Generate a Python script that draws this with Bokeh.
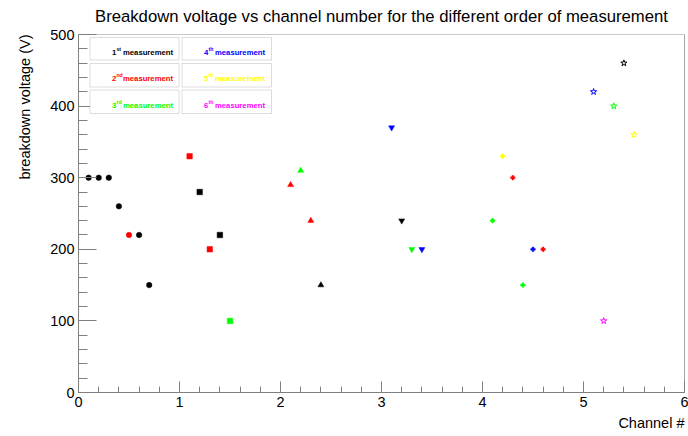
from bokeh.plotting import figure
from bokeh.models import (Range1d, Label, BoxAnnotation, SingleIntervalTicker, FixedTicker,
                          ColumnDataSource, Title, Span, LinearAxis)
from bokeh.embed import file_html
from bokeh.resources import INLINE

# ---------------- data ----------------
channel = [0.1, 0.2, 0.3, 0.4, 0.5, 0.6, 0.7,
           1.1, 1.2, 1.3, 1.4, 1.5,
           2.1, 2.2, 2.3, 2.4,
           3.1, 3.2, 3.3, 3.4,
           4.1, 4.2, 4.3, 4.4, 4.5, 4.6,
           5.1, 5.2, 5.3, 5.4, 5.5]
voltage = [300, 300, 300, 260, 220, 220, 150,
           330, 280, 200, 220, 100,
           290, 310, 240, 150,
           370, 240, 200, 200,
           240, 330, 300, 150, 200, 200,
           420, 100, 400, 460, 360]
order = [1, 1, 1, 1, 2, 1, 1,
         2, 1, 2, 1, 3,
         2, 3, 2, 1,
         4, 1, 3, 4,
         3, 5, 2, 3, 4, 2,
         4, 6, 3, 1, 5]
order_colors = ["#000000", "#ff0000", "#00ff00", "#0000ff", "#ffff00", "#ff00ff"]
order_num = ["1", "2", "3", "4", "5", "6"]
order_sup = ["st", "nd", "rd", "th", "th", "th"]
group_markers = ["circle", "square", "triangle", "inverted_triangle", "plus", "star"]
group_sizes = [5.5, 5.5, 6, 6, 4.5, 6.5]
group_open = [False, False, False, False, False, True]

TITLE = "Breakdown voltage vs channel number for the different order of measurement"
XLABEL = "Channel #"
YLABEL = "breakdown voltage (V)"

FONT = "Liberation Sans"

p = figure(width=688, height=436, output_backend="svg", toolbar_location=None,
           x_range=Range1d(0, 6), y_range=Range1d(0, 500),
           min_border_left=78, min_border_right=4, min_border_top=34, min_border_bottom=44)
p.background_fill_color = "white"
p.border_fill_color = "white"
p.outline_line_color = "#c8c8c8"
p.xgrid.grid_line_color = None
p.ygrid.grid_line_color = None

xax = p.below[0]
yax = p.left[0]
xax.ticker = SingleIntervalTicker(interval=1, num_minor_ticks=5)
yax.ticker = SingleIntervalTicker(interval=100, num_minor_ticks=5)
for ax, tin, mtin in ((xax, 11, 6), (yax, 18, 9)):
    ax.axis_line_color = "#808080"
    ax.major_tick_line_color = "#808080"
    ax.minor_tick_line_color = "#808080"
    ax.major_tick_in = tin
    ax.major_tick_out = 0
    ax.minor_tick_in = mtin
    ax.minor_tick_out = 0
    ax.major_label_text_font = FONT
    ax.major_label_text_font_size = "14.5px"
    ax.major_label_text_color = "#000000"
    ax.major_label_standoff = 4

p.add_layout(Span(location=6, dimension="height", line_color="#808080", line_width=1))

# ---------------- axis titles (right / top aligned) ----------------
p.add_layout(Title(text=XLABEL, text_font=FONT, text_font_size="14.5px", text_font_style="normal",
                   text_color="#000000", align="right", standoff=7), "below")
p.add_layout(Title(text=YLABEL, text_font=FONT, text_font_size="14.5px",
                   text_font_style="normal", text_color="#000000", align="right", standoff=29), "left")

# ---------------- title as the label of an empty top axis ----------------
top_ax = LinearAxis(ticker=FixedTicker(ticks=[]), axis_line_color=None,
                    major_tick_line_color=None, minor_tick_line_color=None,
                    major_label_standoff=0, major_tick_in=0, major_tick_out=0,
                    axis_label=TITLE, axis_label_standoff=9,
                    axis_label_text_font=FONT, axis_label_text_font_size="16.7px",
                    axis_label_text_font_style="normal", axis_label_text_color="#000000")
p.add_layout(top_ax, "above")

# ---------------- markers ----------------
for g, mk in enumerate(group_markers):
    idx = [i for i, c in enumerate(channel) if int(c) == g]
    src = ColumnDataSource(dict(
        x=[channel[i] for i in idx],
        y=[voltage[i] for i in idx],
        c=[order_colors[order[i] - 1] for i in idx],
    ))
    if group_open[g]:
        p.scatter("x", "y", source=src, marker=mk, size=group_sizes[g],
                  fill_color=None, line_color="c", line_width=1)
    else:
        p.scatter("x", "y", source=src, marker=mk, size=group_sizes[g],
                  fill_color="c", line_color="c", line_width=0.5)

# ---------------- layout helpers (page pixel -> data) ----------------
def dx(px):
    return (px - 78) / 101.0

def dy(py):
    return (392 - py) / 0.716

# ---------------- legend boxes ----------------
col_box = [(89.5, 178.5), (181.5, 271)]
row_box = [(37, 59.5), (63, 86.5), (89.5, 113)]
row_base = [51.5, 78, 104.5]
row_sup = [48, 74.5, 101]
col_num = [111.5, 203.5]
col_end = [172.5, 264.5]
num_w = 4.4
for k in range(6):
    col = k // 3
    row = k % 3
    p.add_layout(BoxAnnotation(left=dx(col_box[col][0]), right=dx(col_box[col][1]),
                               top=dy(row_box[row][0]), bottom=dy(row_box[row][1]),
                               fill_color="white", fill_alpha=1.0,
                               line_color="#8a8a8a", line_width=1))
    color = order_colors[k]
    p.add_layout(Label(x=dx(col_end[col]), y=dy(row_base[row]), text="measurement",
                       text_font=FONT, text_font_size="7.7px", text_font_style="bold",
                       text_align="right", text_baseline="alphabetic", text_color=color))
    p.add_layout(Label(x=dx(col_num[col]), y=dy(row_base[row]), text=order_num[k],
                       text_font=FONT, text_font_size="7.7px", text_font_style="bold",
                       text_align="left", text_baseline="alphabetic", text_color=color))
    p.add_layout(Label(x=dx(col_num[col] + num_w), y=dy(row_sup[row]), text=order_sup[k],
                       text_font=FONT, text_font_size="5.2px", text_font_style="bold",
                       text_align="left", text_baseline="alphabetic", text_color=color))

open("out.html", "w").write(file_html(p, INLINE))
